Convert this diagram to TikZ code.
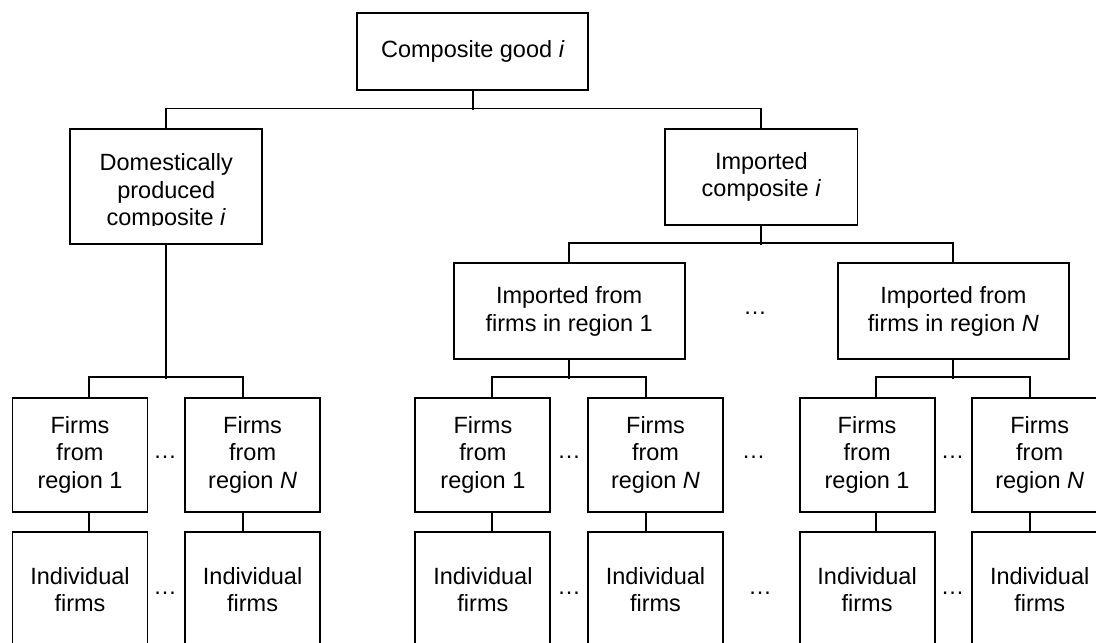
\documentclass[tikz,border=0pt]{standalone}
\usepackage{fontspec}
\setmainfont{Liberation Sans}
\begin{document}
\begin{tikzpicture}[x=1pt,y=-1pt,
  lw/.style={line width=1.9pt},
  box/.style={draw,lw,inner sep=0pt,align=center,font=\fontsize{23.5}{27.5}\selectfont},
  fbox/.style={box,minimum width=135pt,minimum height=114.7pt},
  rbox/.style={box,minimum width=231pt,minimum height=96pt},
  txt/.style={inner sep=0pt,align=center,font=\fontsize{23.5}{27.5}\selectfont},
  dots/.style={inner sep=0pt,font=\fontsize{23.5}{27.5}\selectfont},
  conn/.style={lw}]
\useasboundingbox (0,0) rectangle (1096,643);
\clip (0,0) rectangle (1096,643);

% top level
\node[box,minimum width=231pt,minimum height=76.7pt] (top) at (472.8,51.7) {Composite good \textit{i}};
\node[box,minimum width=192.2pt,minimum height=115.3pt] (dom) at (166.3,186.35) {};
\begin{scope}
  \clip (70,128) rectangle (263,225.5);
  \node[txt] (domtxt) at (166.3,192) {Domestically\\produced\\composite \textit{i}};
\end{scope}
\node[box,minimum width=192.2pt,minimum height=96.3pt] (imp) at (761.4,176.85) {Imported\\composite \textit{i}};

% regions
\node[rbox] (r1) at (569.2,311.3) {Imported from\\firms in region 1};
\node[rbox] (rN) at (953.4,311.3) {Imported from\\firms in region \textit{N}};
\node[dots] (d0) at (755,313.3) {…};

% firms row
\node[fbox] (f1) at (80,454.9) {Firms\\from\\region 1};
\node[fbox] (f2) at (252.6,454.9) {Firms\\from\\region \textit{N}};
\node[fbox] (f3) at (482.9,454.9) {Firms\\from\\region 1};
\node[fbox] (f4) at (655.5,454.9) {Firms\\from\\region \textit{N}};
\node[fbox] (f5) at (867.1,454.9) {Firms\\from\\region 1};
\node[fbox] (f6) at (1039.7,454.9) {Firms\\from\\region \textit{N}};

% individual row
\node[fbox] (g1) at (80,589.4) {Individual\\firms};
\node[fbox] (g2) at (252.6,589.4) {Individual\\firms};
\node[fbox] (g3) at (482.9,589.4) {Individual\\firms};
\node[fbox] (g4) at (655.5,589.4) {Individual\\firms};
\node[fbox] (g5) at (867.1,589.4) {Individual\\firms};
\node[fbox] (g6) at (1039.7,589.4) {Individual\\firms};

% dots
\node[dots] (df1) at (165,457) {…};
\node[dots] (df2) at (569,457) {…};
\node[dots] (df3) at (753.6,457) {…};
\node[dots] (df4) at (952.5,457) {…};
\node[dots] (dg1) at (165,593) {…};
\node[dots] (dg2) at (569,593) {…};
\node[dots] (dg3) at (760,593) {…};
\node[dots] (dg4) at (952.5,593) {…};

% connectors
\draw[conn] (top.south) -- ++(0,19.3);
\draw[conn] (dom.north) -- ++(0,-19.3) -| (imp.north);
\draw[conn] (imp.south) -- ++(0,19);
\draw[conn] (r1.north) -- ++(0,-19.3) -| (rN.north);

\draw[conn] (dom.south) -- ++(0,134.3);
\draw[conn] ([xshift=9.3pt]f1.north) -- ++(0,-19.2) -| ([xshift=-9.3pt]f2.north);
\draw[conn] (r1.south) -- ++(0,19);
\draw[conn] ([xshift=9.3pt]f3.north) -- ++(0,-19.2) -| ([xshift=-9.3pt]f4.north);
\draw[conn] (rN.south) -- ++(0,19);
\draw[conn] ([xshift=9.3pt]f5.north) -- ++(0,-19.2) -| ([xshift=-9.3pt]f6.north);

\foreach \a/\b/\s in {f1/g1/9.3,f2/g2/-9.3,f3/g3/9.3,f4/g4/-9.3,f5/g5/9.3,f6/g6/-9.3}
  \draw[conn] ([xshift=\s pt]\a.south) -- ([xshift=\s pt]\b.north);
\end{tikzpicture}
\end{document}
